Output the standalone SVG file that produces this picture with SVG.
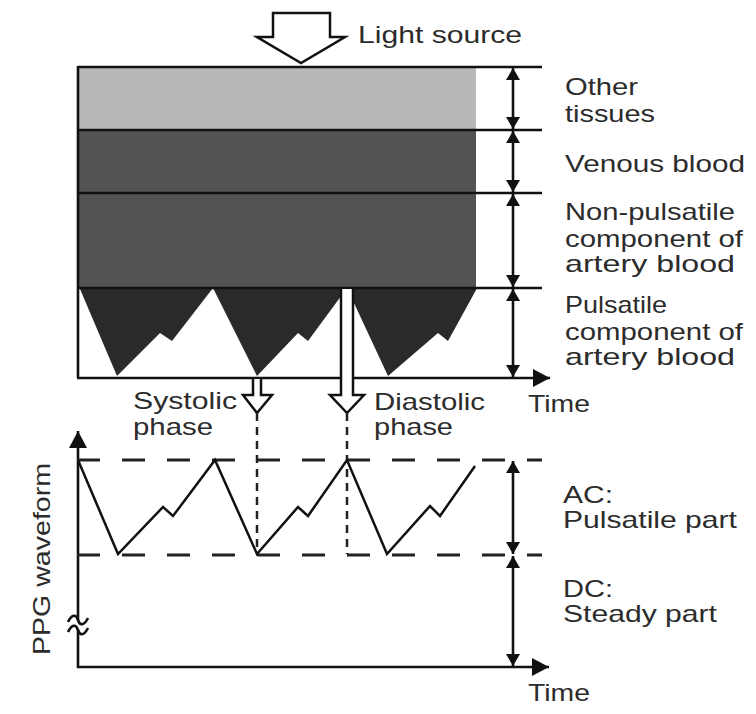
<svg xmlns="http://www.w3.org/2000/svg" width="756" height="714" viewBox="0 0 756 714">
  <defs>
    <style>
      .t { font-family: "Liberation Sans", Arial, sans-serif; font-size: 24px; fill: #2c2c2c; }
      .ln { stroke: #111; stroke-width: 2.6; fill: none; }
      .wave { stroke: #111; stroke-width: 2.5; fill: none; stroke-linejoin: miter; }
      .dash { stroke: #222; stroke-width: 3; fill: none; stroke-dasharray: 23 22; }
      .vdash { stroke: #222; stroke-width: 2.5; fill: none; stroke-dasharray: 8 6; }
      .dbl { stroke: #111; stroke-width: 2.6; fill: none; marker-start: url(#ah); marker-end: url(#ah); }
      .hollow { fill: #fff; stroke: #111; stroke-width: 2.5; stroke-linejoin: miter; }
    </style>
    <marker id="ah" viewBox="0 0 12 14" refX="12" refY="7" markerWidth="12" markerHeight="14" markerUnits="userSpaceOnUse" orient="auto-start-reverse">
      <path d="M0,0 L12,7 L0,14 Z" fill="#111"/>
    </marker>
    <marker id="ax" viewBox="0 0 17 18" refX="17" refY="9" markerWidth="17" markerHeight="18" markerUnits="userSpaceOnUse" orient="auto">
      <path d="M0,0 L17,9 L0,18 Z" fill="#111"/>
    </marker>
  </defs>
  <rect width="756" height="714" fill="#fff"/>

  <!-- Top panel: tissue layers -->
  <g id="layer-other-tissues">
    <rect x="78" y="67" width="398" height="63" fill="#b8b8b8"/>
  </g>
  <g id="layer-venous-blood">
    <rect x="78" y="130" width="398" height="63" fill="#535353"/>
  </g>
  <g id="layer-nonpulsatile">
    <rect x="78" y="193" width="398" height="95" fill="#535353"/>
  </g>
  <g id="layer-pulsatile">
    <path d="M78,288 H476 V290 L448,341 L438,333 L388,376 L347,288 L308,341 L298,333 L257,376 L213,288 L172,341 L160,333 L117,376 L80,289 Z" fill="#2a2a2a"/>
  </g>

  <g id="connectors">
    <!-- top panel frame lines -->
    <line class="ln" x1="78" y1="67" x2="542" y2="67"/>
    <line class="ln" x1="78" y1="130" x2="542" y2="130"/>
    <line class="ln" x1="78" y1="193" x2="542" y2="193"/>
    <line class="ln" x1="78" y1="288" x2="542" y2="288"/>
    <line class="ln" x1="78" y1="66" x2="78" y2="378"/>
    <line class="ln" x1="77" y1="378" x2="550" y2="378" marker-end="url(#ax)"/>
    <!-- top panel double arrows -->
    <line class="dbl" x1="513" y1="68" x2="513" y2="129"/>
    <line class="dbl" x1="513" y1="131" x2="513" y2="192"/>
    <line class="dbl" x1="513" y1="194" x2="513" y2="287"/>
    <line class="dbl" x1="513" y1="289" x2="513" y2="377"/>

    <!-- light source arrow -->
    <path class="hollow" d="M273,13 H330 V37 H345 L301,63 L257,37 H273 Z"/>
    <!-- systolic arrow -->
    <path class="hollow" d="M253,379 V395 H243 L257,413 L272,395 H261 V379"/>
    <!-- diastolic arrow -->
    <path class="hollow" d="M341,289 V395 H330 L347,413 L364,395 H353 V289"/>

    <!-- bottom panel axes -->
    <line class="ln" x1="78" y1="620" x2="78" y2="431" marker-end="url(#ax)"/>
    <line class="ln" x1="78" y1="630" x2="78" y2="668"/>
    <path class="ln" d="M68,622 C72,614 76,614 78,620 C80,626 84,626 88,618" stroke-width="2.2"/>
    <path class="ln" d="M68,632 C72,624 76,624 78,630 C80,636 84,636 88,628" stroke-width="2.2"/>
    <line class="ln" x1="77" y1="667" x2="549" y2="667" marker-end="url(#ax)"/>

    <!-- dashed reference lines -->
    <line class="dash" x1="77" y1="460" x2="542" y2="460"/>
    <line class="dash" x1="77" y1="555" x2="542" y2="555"/>
    <line class="vdash" x1="257" y1="413" x2="257" y2="554"/>
    <line class="vdash" x1="347" y1="413" x2="347" y2="554"/>

    <!-- PPG waveform -->
    <polyline class="wave" points="78,460 118,554 163,507 173,516 215,460 257,554 298,507 308,516 347,460 387,554 430,506 440,516 475,466"/>

    <!-- bottom panel double arrows -->
    <line class="dbl" x1="513" y1="461" x2="513" y2="554"/>
    <line class="dbl" x1="513" y1="556" x2="513" y2="666"/>
  </g>

  <!-- Labels -->
  <g id="label-light-source"><text class="t" x="358" y="43" textLength="164" lengthAdjust="spacingAndGlyphs">Light source</text></g>
  <g id="label-other-tissues">
    <text class="t" x="565" y="95" textLength="73" lengthAdjust="spacingAndGlyphs">Other</text>
    <text class="t" x="565" y="122" textLength="90" lengthAdjust="spacingAndGlyphs">tissues</text>
  </g>
  <g id="label-venous-blood"><text class="t" x="565" y="172" textLength="180" lengthAdjust="spacingAndGlyphs">Venous blood</text></g>
  <g id="label-nonpulsatile">
    <text class="t" x="565" y="220" textLength="170" lengthAdjust="spacingAndGlyphs">Non-pulsatile</text>
    <text class="t" x="565" y="247" textLength="178" lengthAdjust="spacingAndGlyphs">component of</text>
    <text class="t" x="565" y="272" textLength="170" lengthAdjust="spacingAndGlyphs">artery blood</text>
  </g>
  <g id="label-pulsatile">
    <text class="t" x="565" y="313" textLength="102" lengthAdjust="spacingAndGlyphs">Pulsatile</text>
    <text class="t" x="565" y="340" textLength="178" lengthAdjust="spacingAndGlyphs">component of</text>
    <text class="t" x="565" y="365" textLength="170" lengthAdjust="spacingAndGlyphs">artery blood</text>
  </g>
  <g id="label-systolic">
    <text class="t" x="133" y="409" textLength="104" lengthAdjust="spacingAndGlyphs">Systolic</text>
    <text class="t" x="133" y="435" textLength="80" lengthAdjust="spacingAndGlyphs">phase</text>
  </g>
  <g id="label-diastolic">
    <text class="t" x="374" y="410" textLength="111" lengthAdjust="spacingAndGlyphs">Diastolic</text>
    <text class="t" x="374" y="435" textLength="79" lengthAdjust="spacingAndGlyphs">phase</text>
  </g>
  <g id="label-time-top"><text class="t" x="528" y="412" textLength="62" lengthAdjust="spacingAndGlyphs">Time</text></g>
  <g id="label-ac">
    <text class="t" x="563" y="503" textLength="50" lengthAdjust="spacingAndGlyphs">AC:</text>
    <text class="t" x="563" y="528" textLength="174" lengthAdjust="spacingAndGlyphs">Pulsatile part</text>
  </g>
  <g id="label-dc">
    <text class="t" x="563" y="597" textLength="50" lengthAdjust="spacingAndGlyphs">DC:</text>
    <text class="t" x="563" y="622" textLength="154" lengthAdjust="spacingAndGlyphs">Steady part</text>
  </g>
  <g id="label-time-bottom"><text class="t" x="528" y="701" textLength="62" lengthAdjust="spacingAndGlyphs">Time</text></g>
  <g id="label-ppg"><text class="t" transform="translate(50,559) rotate(-90)" x="0" y="0" text-anchor="middle" textLength="192" lengthAdjust="spacingAndGlyphs">PPG waveform</text></g>
</svg>
